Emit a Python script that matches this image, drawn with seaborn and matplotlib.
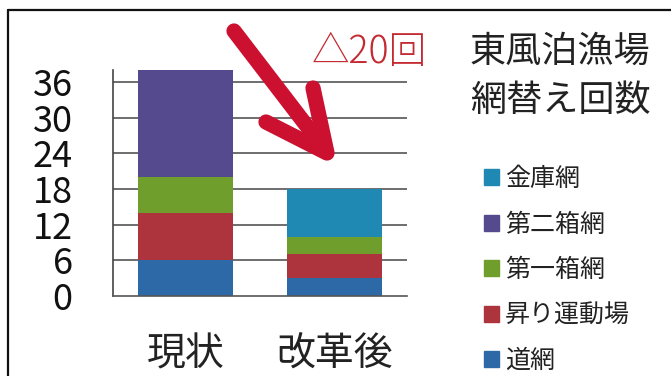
import matplotlib
matplotlib.use("Agg")
import matplotlib.pyplot as plt
import matplotlib.patches as mpatches
from matplotlib.lines import Line2D
import seaborn as sns
import pandas as pd
import numpy as np

# ---- data ----
categories = ["現状", "改革後"]
series_names = ["道網", "昇り運動場", "第一箱網", "第二箱網", "金庫網"]  # bottom -> top
michiami = [6, 3]
nobori = [8, 4]
daiichi = [6, 3]
daini = [18, 0]
kinko = [0, 8]
series_values = [michiami, nobori, daiichi, daini, kinko]
colors = ["#2c69a6", "#ad343c", "#6f9e2c", "#564a8e", "#1f88b3"]
yticks = [0, 6, 12, 18, 24, 30, 36]
ytick_labels = ["0", "6", "12", "18", "24", "30", "36"]
title_lines = ["東風泊漁場", "網替え回数"]
annotation_text = "△20回"

sns.set_style("white")
plt.rcParams["font.family"] = ["Noto Sans CJK JP", "DejaVu Sans"]

W, H = 671, 376
fig = plt.figure(figsize=(W / 100, H / 100), dpi=100)
fig.patch.set_facecolor("white")

def fx(px):
    return px / W

def fy(py):
    return 1 - py / H

ax = fig.add_axes([fx(113), fy(296), fx(407) - fx(113), fy(70) - fy(296)])
ax.set_facecolor("white")

# grid lines behind bars
for v in yticks[1:]:
    ax.axhline(v, color="#555555", lw=1.2, zorder=0)

# stacked bars via cumulative tops drawn largest first
cum = np.cumsum(np.array(series_values, dtype=float), axis=0)
for i in range(len(series_names) - 1, -1, -1):
    df = pd.DataFrame({"category": categories, "value": cum[i]})
    sns.barplot(data=df, x="category", y="value", order=categories,
                color=colors[i], saturation=1, width=0.64, linewidth=0,
                ax=ax, zorder=2)

ax.set_xlim(-0.49, 1.49)
ax.set_ylim(0, 38)
ax.set_yticks(yticks)
ax.set_yticklabels(ytick_labels, fontsize=26, color="#111111")
ax.tick_params(axis="y", length=0, pad=29)
ax.tick_params(axis="x", length=0, pad=28, labelsize=28, labelcolor="#222222")
ax.set_xlabel("")
ax.set_ylabel("")
for s in ["top", "right"]:
    ax.spines[s].set_visible(False)
ax.spines["left"].set_color("#444444")
ax.spines["left"].set_linewidth(1.2)
ax.spines["bottom"].set_color("#555555")
ax.spines["bottom"].set_linewidth(1.2)

# frame lines (top and left)
fig.add_artist(Line2D([fx(8), fx(8)], [fy(376), fy(10)], transform=fig.transFigure,
                      color="#111111", lw=1.6))
fig.add_artist(Line2D([fx(8), fx(671)], [fy(10), fy(10)], transform=fig.transFigure,
                      color="#111111", lw=1.6))

# title
fig.text(fx(560), fy(52), title_lines[0], ha="center", va="center", fontsize=26, color="#222222")
fig.text(fx(560), fy(101), title_lines[1], ha="center", va="center", fontsize=26, color="#222222")

# red annotation text
fig.text(fx(369), fy(52), annotation_text, ha="center", va="center", fontsize=27,
         color="#c42a32", fontweight="light")

# red arrow
red = "#cc1030"
fig.add_artist(Line2D([fx(234), fx(326)], [fy(31), fy(151)], transform=fig.transFigure,
                      color=red, lw=11, solid_capstyle="round"))
fig.add_artist(Line2D([fx(266), fx(327), fx(313)], [fy(122), fy(153), fy(88)],
                      transform=fig.transFigure, color=red, lw=11,
                      solid_capstyle="round", solid_joinstyle="round"))

# legend (top series first)
handles = [mpatches.Patch(color=colors[i], label=series_names[i])
           for i in range(len(series_names) - 1, -1, -1)]
fig.legend(handles=handles, loc="upper left", bbox_to_anchor=(fx(484), fy(166)),
           frameon=False, fontsize=18, handlelength=0.6, handleheight=0.6,
           handletextpad=0.25, labelspacing=0.78, borderpad=0, borderaxespad=0,
           labelcolor="#222222")

fig.savefig("out.png", dpi=100, facecolor="white")
